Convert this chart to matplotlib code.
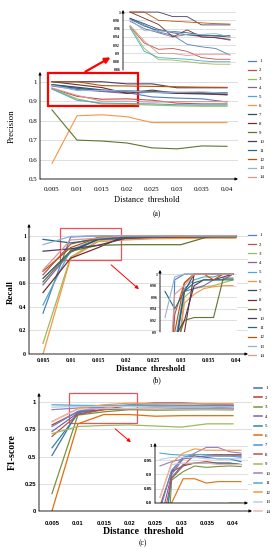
import numpy as np
import matplotlib
matplotlib.use('Agg')
import matplotlib.pyplot as plt
from matplotlib.patches import Rectangle
from matplotlib.lines import Line2D

plt.rcParams['font.family'] = ['Liberation Serif', 'DejaVu Serif']

# ── data ─────────────────────────────────────────────────────────────
thresholds = [0.005, 0.01, 0.015, 0.02, 0.025, 0.03, 0.035, 0.04]
x_labels = ['0.005', '0.01', '0.015', '0.02', '0.025', '0.03', '0.035', '0.04']
series_names = [str(i) for i in range(1, 15)]

precision = [
    [0.985, 0.969, 0.952, 0.944, 0.922, 0.916, 0.912, 0.896],
    [0.965, 0.925, 0.910, 0.912, 0.905, 0.890, 0.886, 0.886],
    [0.965, 0.912, 0.885, 0.884, 0.880, 0.876, 0.874, 0.874],
    [0.978, 0.960, 0.950, 0.940, 0.946, 0.940, 0.938, 0.932],
    [0.962, 0.905, 0.890, 0.888, 0.886, 0.882, 0.880, 0.880],
    [0.580, 0.825, 0.830, 0.820, 0.790, 0.790, 0.790, 0.790],
    [0.985, 0.972, 0.958, 0.950, 0.945, 0.943, 0.942, 0.940],
    [1.000, 0.985, 0.970, 0.940, 0.957, 0.940, 0.938, 0.934],
    [0.855, 0.700, 0.695, 0.685, 0.660, 0.655, 0.670, 0.668],
    [1.000, 1.000, 1.000, 0.989, 0.989, 0.969, 0.969, 0.969],
    [0.983, 0.966, 0.955, 0.953, 0.950, 0.945, 0.943, 0.943],
    [1.000, 1.000, 0.980, 0.978, 0.976, 0.974, 0.972, 0.971],
    [0.982, 0.955, 0.955, 0.952, 0.945, 0.946, 0.948, 0.940],
    [0.968, 0.930, 0.900, 0.900, 0.895, 0.898, 0.898, 0.898],
]

recall = [
    [0.345, 0.990, 1.000, 1.000, 1.000, 1.000, 1.000, 1.000],
    [0.670, 0.930, 0.985, 1.000, 1.000, 1.000, 1.000, 1.000],
    [0.090, 0.820, 0.960, 0.975, 0.978, 0.980, 0.985, 0.990],
    [0.585, 0.860, 0.970, 0.975, 0.980, 0.990, 0.990, 1.000],
    [0.415, 0.880, 0.975, 0.990, 0.995, 0.995, 1.000, 1.000],
    [0.000, 0.810, 0.950, 0.965, 0.975, 0.978, 0.980, 0.980],
    [0.640, 0.870, 0.970, 1.000, 1.000, 1.000, 1.000, 1.000],
    [0.520, 0.810, 0.900, 1.000, 1.000, 1.000, 1.000, 1.000],
    [0.610, 0.870, 0.920, 0.925, 0.925, 0.925, 0.993, 0.993],
    [0.870, 0.890, 0.920, 0.980, 0.990, 0.990, 0.995, 1.000],
    [0.970, 0.940, 0.970, 0.985, 0.990, 0.990, 0.990, 0.990],
    [0.700, 0.900, 0.985, 1.000, 1.000, 0.990, 1.000, 1.000],
    [0.925, 0.995, 1.000, 1.000, 1.000, 1.000, 1.000, 1.000],
    [0.710, 0.965, 0.980, 1.000, 1.000, 1.000, 1.000, 1.000],
]

f1_score = [
    [0.510, 0.910, 0.960, 0.965, 0.960, 0.955, 0.955, 0.945],
    [0.790, 0.910, 0.930, 0.940, 0.945, 0.940, 0.940, 0.935],
    [0.160, 0.880, 0.910, 0.930, 0.925, 0.928, 0.930, 0.928],
    [0.730, 0.900, 0.955, 0.960, 0.965, 0.965, 0.965, 0.965],
    [0.580, 0.890, 0.935, 0.940, 0.940, 0.940, 0.940, 0.935],
    [0.000, 0.800, 0.885, 0.885, 0.870, 0.875, 0.875, 0.875],
    [0.775, 0.915, 0.960, 0.970, 0.970, 0.968, 0.968, 0.965],
    [0.685, 0.885, 0.930, 0.970, 0.970, 0.970, 0.970, 0.970],
    [0.710, 0.775, 0.785, 0.790, 0.780, 0.770, 0.800, 0.800],
    [0.930, 0.945, 0.955, 0.975, 0.995, 0.995, 0.980, 0.975],
    [0.975, 0.970, 0.968, 0.970, 0.970, 0.965, 0.965, 0.960],
    [0.820, 0.940, 0.975, 0.990, 0.985, 0.985, 0.985, 0.985],
    [0.953, 0.960, 0.960, 0.960, 0.955, 0.955, 0.955, 0.955],
    [0.820, 0.935, 0.940, 0.940, 0.940, 0.935, 0.935, 0.935],
]

colors_ab = ['#4F81BD', '#C0504D', '#9BBB59', '#8064A2', '#4BACC6', '#F79646', '#2C4D75',
             '#772C2A', '#5F7530', '#4D3B62', '#276A7C', '#B65708', '#95B3D7', '#D99694']
colors_c = ['#3F6FB5', '#C0392B', '#77933C', '#8064A2', '#31859C', '#E46C0A', '#558ED5',
            '#C0504D', '#9BBB59', '#9A7FC0', '#4BACC6', '#F79646', '#B9CDE5', '#E6B9B8']

W, H = 280, 550
fig = plt.figure(figsize=(W / 100, H / 100), dpi=100)


def px_axes(left, top, right, bottom):
    return fig.add_axes([left / W, 1 - bottom / H, (right - left) / W, (bottom - top) / H])


def fx(p):
    return p / W


def fy(p):
    return 1 - p / H


def style(ax, yticks, ylabels, lab_size, bottom_axis=True, bold=False, family=None):
    for s in ax.spines.values():
        s.set_visible(False)
    ax.annotate('', xy=(0, 1), xytext=(0, 0), xycoords='axes fraction',
                arrowprops=dict(arrowstyle='-|>', lw=0.6, color='k', mutation_scale=4,
                                shrinkA=0, shrinkB=0))
    if bottom_axis:
        ax.annotate('', xy=(1, 0), xytext=(0, 0), xycoords='axes fraction',
                    arrowprops=dict(arrowstyle='-|>', lw=0.6, color='k', mutation_scale=4,
                                    shrinkA=0, shrinkB=0))
    ax.set_yticks(yticks)
    ax.set_yticklabels(ylabels, fontsize=lab_size, fontweight='bold' if bold else 'normal',
                       family=family)
    ax.yaxis.grid(True, color='#D9D9D9', lw=0.6)
    ax.set_axisbelow(True)
    ax.tick_params(length=0, pad=2)


def draw_lines(ax, data, colors, lw):
    for vals, c in zip(data, colors):
        ax.plot(thresholds, vals, color=c, lw=lw, solid_joinstyle='miter')


def legend(data_colors, x0, y0, lw, spacing):
    handles = [Line2D([], [], color=c, lw=lw) for c in data_colors]
    fig.legend(handles, series_names, loc='upper left', bbox_to_anchor=(fx(x0), fy(y0)),
               frameon=False, fontsize=3.5, handlelength=1.7, handletextpad=0.6,
               labelspacing=spacing, borderpad=0, borderaxespad=0)


# ── (a) Precision ────────────────────────────────────────────────────
ax = px_axes(40, 72, 238, 179)
draw_lines(ax, precision, colors_ab, 0.8)
ax.set_xlim(0.005 - 12 / 5000, 0.04 + 11 / 5000)
ax.set_ylim(0.5, 1.05)
style(ax, [0.5, 0.6, 0.7, 0.8, 0.9, 1.0], ['0.5', '0.6', '0.7', '0.8', '0.9', '1'], 5)
ax.set_xticks(thresholds)
ax.set_xticklabels(x_labels, fontsize=5)
ax.tick_params(axis='x', pad=6)
ax.add_patch(Rectangle((0.0042, 0.873), 0.018, 0.172, fill=False, ec='#FF0000', lw=1.6,
                       clip_on=False))
fig.text(fx(12), fy(126), 'Precision', rotation=90, fontsize=6.5, ha='center', va='center')
fig.text(fx(147), fy(200), 'Distance  threshold', fontsize=6, ha='center', va='center')
fig.text(fx(157), fy(214), '(a)', fontsize=5.5, ha='center', va='center')
legend(colors_ab, 248, 59, 0.9, 0.93)

ins = px_axes(123, 10, 236, 70)
draw_lines(ins, precision, colors_ab, 0.6)
ins.set_xlim(0.005 - 7 / 2857, 0.04 + 6 / 2857)
ins.set_ylim(0.86, 1.005)
style(ins, [0.86, 0.88, 0.9, 0.92, 0.94, 0.96, 0.98, 1.0],
      ['0.86', '0.88', '0.9', '0.92', '0.94', '0.96', '0.98', '1'], 2.8,
      bottom_axis=False, bold=True)
ins.set_xticks([])

fig.add_artist(matplotlib.patches.FancyArrowPatch(
    (fx(83), fy(73)), (fx(113), fy(56)), transform=fig.transFigure,
    arrowstyle='-|>', mutation_scale=8, lw=1.6, color='#FF0000'))

# ── (b) Recall ───────────────────────────────────────────────────────
ax = px_axes(29, 224, 248, 354)
draw_lines(ax, recall, colors_ab, 0.9)
ax.set_xlim(0.005 - 14 / 5514, 0.04 + 12 / 5514)
ax.set_ylim(0, 1.10)
style(ax, [0, 0.2, 0.4, 0.6, 0.8, 1.0], ['0', '0.2', '0.4', '0.6', '0.8', '1'], 4.2, bold=True)
ax.set_xticks(thresholds)
ax.set_xticklabels(x_labels, fontsize=4.2, fontweight='bold')
ax.tick_params(axis='x', pad=3)
ax.add_patch(Rectangle((0.0081, 0.797), 0.0111, 0.27, fill=False, ec='#F0505A', lw=0.9,
                       clip_on=False))
fig.text(fx(11), fy(292), 'Recall', rotation=90, fontsize=6.5, fontweight='bold',
         ha='center', va='center')
fig.text(fx(150), fy(369), 'Distance  threshold', fontsize=6, fontweight='bold',
         ha='center', va='center')
fig.text(fx(157), fy(380), '(b)', fontsize=5.5, ha='center', va='center')
legend(colors_ab, 248, 233, 0.9, 1.0)

ins = px_axes(160, 270, 237, 332)
draw_lines(ins, recall, colors_ab, 0.8)
ins.set_xlim(0.005 - 5 / 1943, 0.04 + 4 / 1943)
ins.set_ylim(0.9, 1.007)
style(ins, [0.9, 0.92, 0.94, 0.96, 0.98, 1.0],
      ['0.9', '0.92', '0.94', '0.96', '0.98', '1'], 2.8, bottom_axis=False, bold=True)
ins.set_xticks([])

fig.add_artist(matplotlib.patches.FancyArrowPatch(
    (fx(109), fy(263)), (fx(141), fy(291)), transform=fig.transFigure,
    arrowstyle='-|>', mutation_scale=5, lw=0.7, color='#FF0000'))

# ── (c) F1-score ─────────────────────────────────────────────────────
ax = px_axes(39, 393, 252, 511)
draw_lines(ax, f1_score, colors_c, 0.9)
ax.set_xlim(0.005 - 13 / 5171, 0.04 + 19 / 5171)
ax.set_ylim(0, 1.083)
style(ax, [0, 0.25, 0.5, 0.75, 1.0], ['0', '0.25', '0.5', '0.75', '1'], 4.2, bold=True,
      family='Liberation Sans')
ax.set_xticks(thresholds)
ax.set_xticklabels(x_labels, fontsize=4.2, fontweight='bold', family='Liberation Sans')
ax.tick_params(axis='x', pad=7)
ax.add_patch(Rectangle((0.0083, 0.807), 0.0131, 0.276, fill=False, ec='#F0505A', lw=0.9,
                       clip_on=False))
fig.text(fx(12), fy(452), 'F1-score', rotation=90, fontsize=7, fontweight='bold',
         ha='center', va='center')
fig.text(fx(143), fy(532), 'Distance  threshold', fontsize=7, fontweight='bold',
         ha='center', va='center')
fig.text(fx(143), fy(543), '(c)', fontsize=5.5, ha='center', va='center')
legend(colors_c, 254, 386, 1.1, 1.05)

ins = px_axes(155, 443, 248, 503)
draw_lines(ins, f1_score, colors_c, 0.8)
ins.set_xlim(0.005 - 5 / 2314, 0.04 + 7 / 2314)
ins.set_ylim(0.8, 1.0105)
style(ins, [0.8, 0.85, 0.9, 0.95, 1.0], ['0.8', '0.85', '0.9', '0.95', '1'], 3.2, bold=True,
      family='Liberation Sans')
ins.set_xticks([])

fig.add_artist(matplotlib.patches.FancyArrowPatch(
    (fx(113), fy(427)), (fx(133), fy(444)), transform=fig.transFigure,
    arrowstyle='-|>', mutation_scale=5, lw=0.7, color='#FF0000'))

fig.savefig('out.png', dpi=100)
